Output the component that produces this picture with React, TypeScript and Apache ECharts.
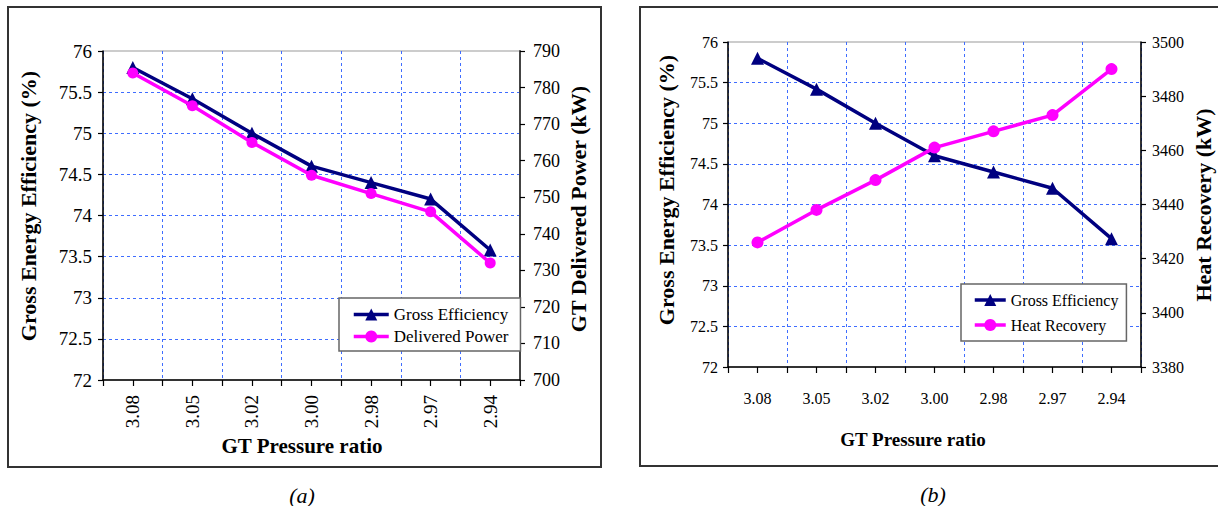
import React, { useEffect, useRef } from "react";
import * as echarts from "echarts";

const categories = ["3.08", "3.05", "3.02", "3.00", "2.98", "2.97", "2.94"];
const grossEfficiency = [75.8, 75.42, 75.0, 74.6, 74.4, 74.2, 73.58];
const deliveredPower = [784, 775, 765, 756, 751, 746, 732];
const heatRecovery = [3426, 3438, 3449, 3461, 3467, 3473, 3490];

const SERIF = "Liberation Serif";
const NAVY = "#000080";
const MAGENTA = "#ff00ff";
const GRIDBLUE = "#3f6dff";

function xAxes(gridIndex: number, rotate: number, fontSize: number, margin: number) {
  return [
    {
      gridIndex,
      type: "category",
      data: categories,
      position: "bottom",
      boundaryGap: true,
      axisLine: { show: true, lineStyle: { color: "#000", width: 1.5 } },
      axisTick: { show: true, length: 6, lineStyle: { color: "#000", width: 1.2 } },
      axisLabel: { interval: 0, rotate, margin, fontSize, fontFamily: SERIF, color: "#000" },
      splitLine: { show: true, lineStyle: { color: GRIDBLUE, width: 1, type: [3, 3] } },
    },
    {
      gridIndex,
      type: "category",
      data: categories,
      position: "bottom",
      boundaryGap: true,
      axisLine: { show: false },
      axisTick: { show: true, alignWithLabel: true, length: 6, lineStyle: { color: "#000", width: 1.2 } },
      axisLabel: { show: false },
      splitLine: { show: false },
    },
  ];
}

function yAxis(
  gridIndex: number,
  min: number,
  max: number,
  interval: number,
  position: string,
  fontSize: number,
  margin: number,
  split: boolean,
  lineColor: string,
  lineWidth: number
) {
  return {
    gridIndex,
    type: "value",
    min,
    max,
    interval,
    position,
    axisLine: { show: true, lineStyle: { color: lineColor, width: lineWidth } },
    axisTick: { show: true, length: 5, lineStyle: { color: "#000", width: 1.2 } },
    axisLabel: {
      margin,
      fontSize,
      fontFamily: SERIF,
      color: "#000",
      formatter: (v: number) => String(v),
    },
    splitLine: {
      show: split,
      showMaxLine: false,
      showMinLine: false,
      lineStyle: { color: GRIDBLUE, width: 1, type: [3, 3] },
    },
  };
}

function vTitle(text: string, x: number, y: number, size: number) {
  return {
    type: "text",
    x,
    y,
    rotation: Math.PI / 2,
    style: {
      text,
      fontFamily: SERIF,
      fontWeight: "bold",
      fontSize: size,
      fill: "#000",
      align: "center",
      verticalAlign: "middle",
    },
  };
}

function hText(text: string, x: number, y: number, size: number, weight: string, fstyle: string) {
  return {
    type: "text",
    x,
    y,
    style: {
      text,
      fontFamily: SERIF,
      fontSize: size,
      fontWeight: weight,
      fontStyle: fstyle,
      fill: "#000",
      align: "center",
      verticalAlign: "middle",
    },
  };
}

export default function App() {
  const ref = useRef<HTMLDivElement>(null);
  useEffect(() => {
    if (!ref.current) return;
    const chart = echarts.init(ref.current, undefined, { renderer: "svg" });
    const option = {
      animation: false,
      backgroundColor: "#fff",
      textStyle: { fontFamily: SERIF },
      grid: [
        { left: 103, top: 51, width: 417, height: 329, show: true, borderColor: "#999", borderWidth: 1, backgroundColor: "transparent" },
        { left: 728, top: 42, width: 413, height: 325, show: true, borderColor: "#999", borderWidth: 1, backgroundColor: "transparent" },
      ],
      xAxis: [...xAxes(0, 90, 19, 15), ...xAxes(1, 0, 16, 23)],
      yAxis: [
        yAxis(0, 72, 76, 0.5, "left", 19, 11, true, "#000", 1.5),
        yAxis(0, 700, 790, 10, "right", 18, 13, false, "#444", 2),
        yAxis(1, 72, 76, 0.5, "left", 16, 10, true, "#000", 1.5),
        yAxis(1, 3380, 3500, 20, "right", 16, 11, false, "#000", 1.5),
      ],
      legend: [
        {
          left: 339,
          top: 298,
          orient: "vertical",
          padding: [8, 12, 6, 13],
          itemWidth: 35,
          itemHeight: 15,
          itemGap: 5,
          selectedMode: false,
          backgroundColor: "#fff",
          borderColor: "#666",
          borderWidth: 1.5,
          borderRadius: 0,
          lineStyle: { width: 3.5 },
          textStyle: { fontFamily: SERIF, fontSize: 17, color: "#000" },
          data: ["Gross Efficiency", "Delivered Power"],
        },
        {
          left: 961,
          top: 284,
          orient: "vertical",
          padding: [8, 8, 8, 12],
          itemWidth: 31,
          itemHeight: 15,
          itemGap: 9,
          selectedMode: false,
          backgroundColor: "#fff",
          borderColor: "#666",
          borderWidth: 1.5,
          borderRadius: 0,
          lineStyle: { width: 3.5 },
          textStyle: { fontFamily: SERIF, fontSize: 16, color: "#000" },
          data: ["Gross Efficiency", "Heat Recovery"],
        },
      ],
      series: [
        {
          name: "Gross Efficiency",
          type: "line",
          xAxisIndex: 0,
          yAxisIndex: 0,
          data: grossEfficiency,
          symbol: "triangle",
          symbolSize: 13,
          lineStyle: { color: NAVY, width: 3.5 },
          itemStyle: { color: NAVY },
          z: 3,
        },
        {
          name: "Delivered Power",
          type: "line",
          xAxisIndex: 0,
          yAxisIndex: 1,
          data: deliveredPower,
          symbol: "circle",
          symbolSize: 11,
          lineStyle: { color: MAGENTA, width: 3.5 },
          itemStyle: { color: MAGENTA },
          z: 4,
        },
        {
          name: "Gross Efficiency",
          type: "line",
          xAxisIndex: 2,
          yAxisIndex: 2,
          data: grossEfficiency,
          symbol: "triangle",
          symbolSize: 13,
          lineStyle: { color: NAVY, width: 3.5 },
          itemStyle: { color: NAVY },
          z: 3,
        },
        {
          name: "Heat Recovery",
          type: "line",
          xAxisIndex: 2,
          yAxisIndex: 3,
          data: heatRecovery,
          symbol: "circle",
          symbolSize: 12,
          lineStyle: { color: MAGENTA, width: 3.5 },
          itemStyle: { color: MAGENTA },
          z: 4,
        },
      ],
      graphic: [
        { type: "rect", shape: { x: 8, y: 7, width: 593, height: 460 }, style: { fill: "none", stroke: "#333", lineWidth: 2 } },
        { type: "rect", shape: { x: 640, y: 7, width: 582, height: 459 }, style: { fill: "none", stroke: "#333", lineWidth: 2 } },
        vTitle("Gross Energy Efficiency (%)", 28, 206, 22),
        vTitle("GT Delivered Power (kW)", 578, 209, 22),
        vTitle("Gross Energy Efficiency (%)", 666, 190, 22),
        vTitle("Heat Recovery (kW)", 1203, 205, 22),
        hText("GT Pressure ratio", 302, 446, 21, "bold", "normal"),
        hText("GT Pressure ratio", 913, 439, 19, "bold", "normal"),
        hText("(a)", 302, 495, 22, "normal", "italic"),
        hText("(b)", 933, 494, 22, "normal", "italic"),
      ],
    };
    chart.setOption(option as any);
    return () => chart.dispose();
  }, []);
  return (
    <div
      ref={ref}
      style={{ position: "absolute", left: 0, top: 0, width: 1218, height: 506 }}
    />
  );
}
